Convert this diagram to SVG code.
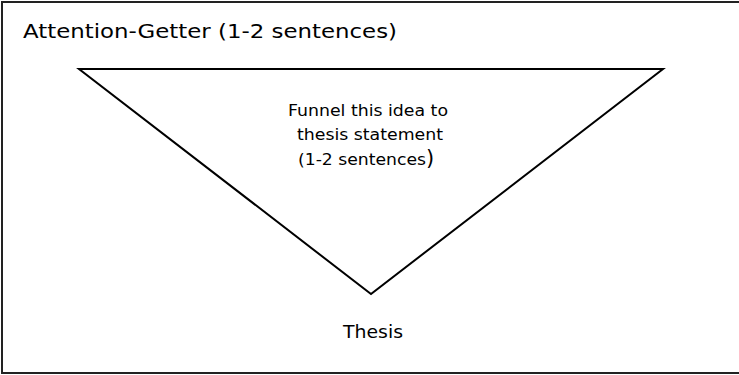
<svg xmlns="http://www.w3.org/2000/svg" width="739" height="375" viewBox="0 0 739 375">
<style>
.t{font-family:"Comic Sans MS","DejaVu Sans",sans-serif;fill:#000}
.big{font-size:20px}
.sm{font-size:16px}
.shape{fill:none;stroke:#000;stroke-width:2}
</style>
<rect x="0" y="0" width="739" height="375" fill="#fff"/>
<g id="frame">
<rect x="2" y="2" width="745" height="371" fill="none" stroke="#222" stroke-width="2"/>
</g>
<g id="funnel">
<polygon class="shape" points="79,69 663,69 371,294"/>
</g>
<g id="attention">
<text class="t big" x="23" y="38" textLength="374" lengthAdjust="spacingAndGlyphs">Attention-Getter (1-2 sentences)</text>
</g>
<g id="funnel-text">
<text class="t sm" x="288" y="116" textLength="160" lengthAdjust="spacingAndGlyphs">Funnel this idea to</text>
<text class="t sm" x="297" y="140" textLength="146" lengthAdjust="spacingAndGlyphs">thesis statement</text>
<text class="t sm" x="298" y="165"><tspan textLength="128" lengthAdjust="spacingAndGlyphs">(1-2 sentences</tspan><tspan font-size="21px">)</tspan></text>
</g>
<g id="thesis">
<text class="t" x="343" y="338" font-size="18" textLength="60" lengthAdjust="spacingAndGlyphs">Thesis</text>
</g>
<g id="connectors"></g>
</svg>
